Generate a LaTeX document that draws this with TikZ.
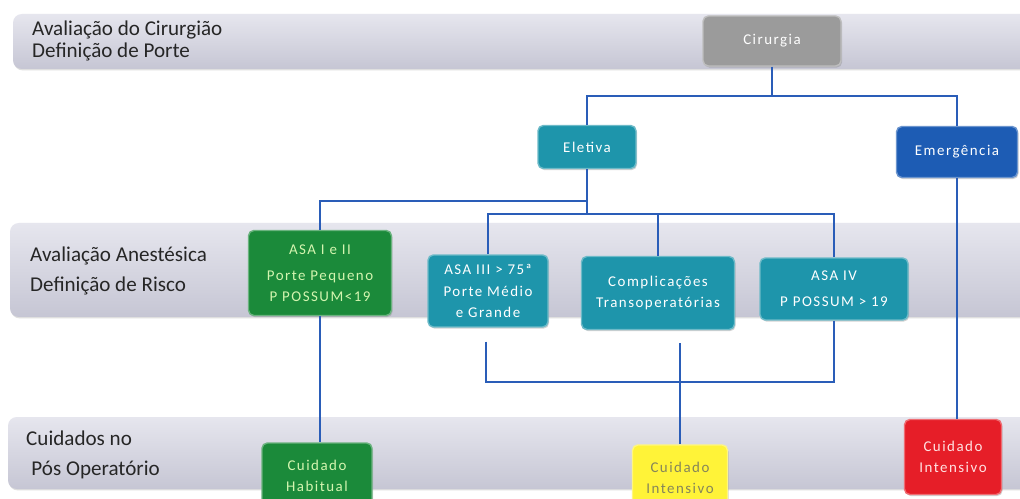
\documentclass[tikz,border=0pt]{standalone}
\usepackage{fontspec}
\setmainfont{Carlito}
\newfontfamily\boxfont{Carlito}[LetterSpace=10]
\usetikzlibrary{positioning,shadows,calc}

\definecolor{BandTop}{HTML}{E6E6EE}
\definecolor{BandBot}{HTML}{C6C6D4}
\definecolor{LinkBlue}{HTML}{2A5DB8}
\definecolor{SurgGray}{HTML}{9B9B9B}
\definecolor{ElecTeal}{HTML}{1E95AB}
\definecolor{EmergBlue}{HTML}{1D5CB4}
\definecolor{RiskGreen}{HTML}{1B8A3A}
\definecolor{GreenText}{HTML}{D4F5B0}
\definecolor{CareYellow}{HTML}{FFF338}
\definecolor{YellowText}{HTML}{85855A}
\definecolor{CareRed}{HTML}{E61E28}
\definecolor{RedText}{HTML}{FFE2E2}

\begin{document}
\begin{tikzpicture}[x=0.02cm, y=-0.02cm,
    band/.style={rounded corners=5pt, top color=BandTop, bottom color=BandBot,
      drop shadow={opacity=0.25, shadow xshift=0.5pt, shadow yshift=-0.8pt}},
    bandtext/.style={anchor=west, align=left, text=black!85,
      font=\fontsize{12}{#1}\selectfont},
    box/.style={rectangle, rounded corners=3pt, fill=#1, draw=#1!65!white,
      line width=0.8pt, text=white, align=center, inner sep=2pt,
      font=\boxfont\fontsize{8.5}{12}\selectfont,
      drop shadow={opacity=0.35, shadow xshift=0.6pt, shadow yshift=-0.9pt}},
    link/.style={draw=LinkBlue, line width=1.1pt}]
  \useasboundingbox (0,0) rectangle (1020,499);
  \fill[white] (0,0) rectangle (1020,499);

  % the three stages
  \shade[band] (13,14) rectangle (1045,69);
  \shade[band] (10,223) rectangle (1045,317);
  \shade[band] (8,417) rectangle (1045,489);
  \node[bandtext=12.5] (stage1) at (26,41) {Avaliação do Cirurgião\\Definição de Porte};
  \node[bandtext=17.5] (stage2) at (24,271) {Avaliação Anestésica\\Definição de Risco};
  \node[bandtext=17] (stage3) at (20,455) {Cuidados no\\\hspace*{3pt}Pós Operatório};

  % boxes
  \node[box=SurgGray, minimum width=2.76cm, minimum height=1.0cm] (cir) at (772,41) {Cirurgia};
  \node[box=ElecTeal, minimum width=1.96cm, minimum height=0.86cm] (elet) at (587,147) {Eletiva};
  \node[box=EmergBlue, minimum width=2.42cm, minimum height=1.02cm] (emerg) at (957,152) {Emergência};
  \node[box=RiskGreen, text=GreenText, minimum width=2.86cm, minimum height=1.7cm] (asa12) at (320,273)
    {ASA I e II\\[3pt]Porte Pequeno\\P POSSUM<19};
  \node[box=ElecTeal, minimum width=2.4cm, minimum height=1.44cm] (asa3) at (488,291)
    {ASA III > 75ª\\Porte Médio\\e Grande};
  \node[box=ElecTeal, minimum width=3.06cm, minimum height=1.46cm] (comp) at (658,293)
    {Complicações\\Transoperatórias};
  \node[box=ElecTeal, minimum width=2.96cm, minimum height=1.24cm] (asa4) at (834,289)
    {ASA IV\\[3pt]P POSSUM > 19};
  \node[box=RiskGreen, text=GreenText, minimum width=2.2cm, minimum height=1.32cm] (habit) at (317,476)
    {Cuidado\\Habitual};
  \node[box=CareYellow, text=YellowText, minimum width=1.9cm, minimum height=1.32cm] (intmid) at (680,478)
    {Cuidado\\Intensivo};
  \node[box=CareRed, text=RedText, minimum width=1.94cm, minimum height=1.5cm] (intred) at (953,457)
    {Cuidado\\Intensivo};

  % branch points
  \coordinate (split1) at (772,96);
  \coordinate (split2) at (587,201);
  \coordinate (split3) at (587,214);
  \coordinate (join) at (680,382);

  % connectors
  \draw[link] (cir.south) -- (split1);
  \draw[link] (split1) -| (elet.north);
  \draw[link] (split1) -| (emerg.north);
  \draw[link] (elet.south) -- (split3);
  \draw[link] (split2) -| (asa12.north);
  \draw[link] (split3) -| (asa3.north);
  \draw[link] (split3) -| (comp.north);
  \draw[link] (split3) -| (asa4.north);
  \draw[link] (asa12.south) -- (asa12.south |- habit.north);
  \draw[link] ($(asa3.south)+(-2,14)$) |- (join);
  \draw[link] (asa4.south) |- (join);
  \draw[link] ($(join |- comp.south)+(0,13)$) -- (intmid.north);
  \draw[link] (emerg.south) -- (emerg.south |- intred.north);
\end{tikzpicture}
\end{document}
